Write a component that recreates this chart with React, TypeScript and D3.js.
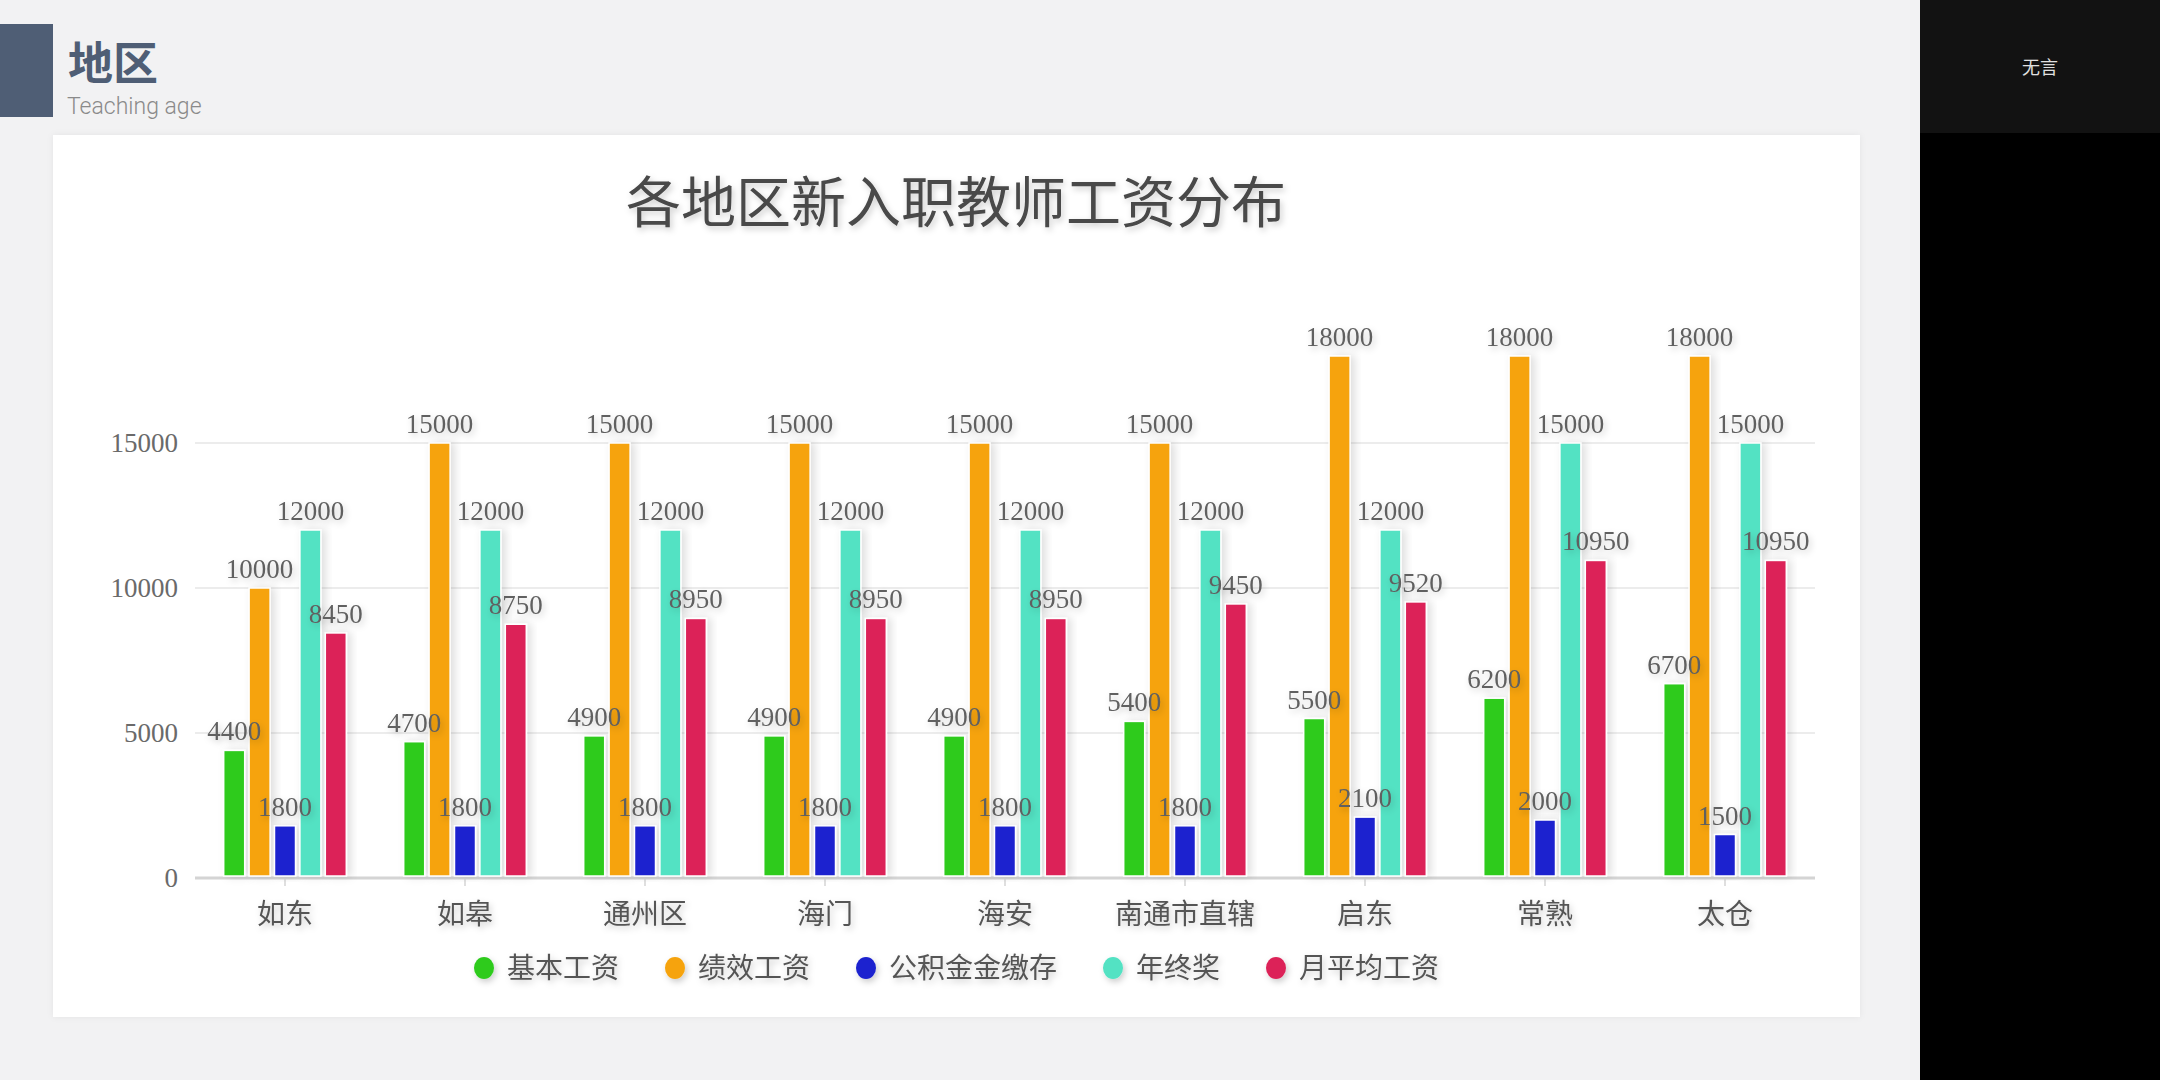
import React from "react";
import * as d3 from "d3";

const categories = ["如东", "如皋", "通州区", "海门", "海安", "南通市直辖", "启东", "常熟", "太仓"];
const seriesNames = ["基本工资", "绩效工资", "公积金金缴存", "年终奖", "月平均工资"];
const seriesColors = ["#2fcb1f", "#f6a309", "#1b23cf", "#52e2c3", "#dc2459"];
const basicPay = [4400, 4700, 4900, 4900, 4900, 5400, 5500, 6200, 6700];
const performancePay = [10000, 15000, 15000, 15000, 15000, 15000, 18000, 18000, 18000];
const housingFund = [1800, 1800, 1800, 1800, 1800, 1800, 2100, 2000, 1500];
const yearEndBonus = [12000, 12000, 12000, 12000, 12000, 12000, 12000, 15000, 15000];
const monthlyAverage = [8450, 8750, 8950, 8950, 8950, 9450, 9520, 10950, 10950];
const yTicks = [0, 5000, 10000, 15000];

const seriesValues = [basicPay, performancePay, housingFund, yearEndBonus, monthlyAverage];

const W = 2160;
const H = 1080;
const plotLeft = 195;
const plotRight = 1815;
const plotBottom = 878;
const plotTop = 298;

const numFont = "'Liberation Serif', 'DejaVu Serif', serif";
const cjkFont = "'Noto Sans CJK SC', 'Noto Sans', sans-serif";

export default function App() {
  const x = d3.scaleBand<string>().domain(categories).range([plotLeft, plotRight]).padding(0);
  const inner = d3
    .scaleBand<string>()
    .domain(seriesNames)
    .range([-61.3, 61.3])
    .paddingInner(0.173)
    .paddingOuter(0);
  const y = d3.scaleLinear().domain([0, 20000]).range([plotBottom, plotTop]);

  // legend layout
  const legendChar = 28;
  const legendItems: { name: string; color: string; cx: number }[] = [];
  const widths = seriesNames.map((n) => n.length * legendChar);
  const total = widths.reduce((a, b) => a + b, 0) + seriesNames.length * 23 + (seriesNames.length - 1) * 56 + 11;
  let cx = 956 - total / 2 + 11;
  seriesNames.forEach((n, i) => {
    legendItems.push({ name: n, color: seriesColors[i], cx });
    cx += 23 + widths[i] + 56;
  });

  return (
    <div style={{ position: "absolute", left: 0, top: 0, width: W, height: H }}>
      <svg width={W} height={H} style={{ display: "block" }}>
        <defs>
          <filter id="barShadow" x="-50%" y="-10%" width="200%" height="120%">
            <feDropShadow dx="4" dy="0" stdDeviation="4" floodColor="#000" floodOpacity="0.13" />
          </filter>
          <filter id="textShadow" x="-20%" y="-30%" width="140%" height="160%">
            <feDropShadow dx="2" dy="3" stdDeviation="3" floodColor="#000" floodOpacity="0.2" />
          </filter>
          <filter id="panelShadow" x="-5%" y="-5%" width="110%" height="110%">
            <feDropShadow dx="0" dy="0" stdDeviation="3" floodColor="#000" floodOpacity="0.06" />
          </filter>
        </defs>

        {/* page backgrounds */}
        <rect x={0} y={0} width={1920} height={H} fill="#f2f2f3" />
        <rect x={1920} y={0} width={240} height={133} fill="#121212" />
        <rect x={1920} y={133} width={240} height={H - 133} fill="#000" />
        <text x={2040} y={74} textAnchor="middle" fontFamily={cjkFont} fontSize={18} fill="#e0e0e0">
          无言
        </text>

        {/* header */}
        <rect x={0} y={24} width={53} height={93} fill="#4f5e75" />
        <text x={68} y={80} fontFamily={cjkFont} fontSize={45} fontWeight={700} fill="#4f5e75">
          地区
        </text>
        <text x={67} y={114} fontFamily="Roboto, 'Liberation Sans', sans-serif" fontWeight={300} fontSize={23} fill="#8a8a8a">
          Teaching age
        </text>

        {/* panel */}
        <rect x={53} y={135} width={1807} height={882} fill="#ffffff" filter="url(#panelShadow)" />

        {/* title */}
        <text
          x={956}
          y={222}
          textAnchor="middle"
          fontFamily={cjkFont}
          fontSize={55}
          fontWeight={400}
          fill="#484848"
          filter="url(#textShadow)"
        >
          各地区新入职教师工资分布
        </text>

        {/* grid lines */}
        {yTicks.map((t) => (
          <line
            key={"g" + t}
            x1={plotLeft}
            x2={plotRight}
            y1={y(t)}
            y2={y(t)}
            stroke={t === 0 ? "#d4d4d4" : "#ececec"}
            strokeWidth={t === 0 ? 3 : 2}
          />
        ))}
        {/* y labels */}
        {yTicks.map((t) => (
          <text
            key={"yl" + t}
            x={178}
            y={y(t)}
            dy="0.35em"
            textAnchor="end"
            fontFamily={numFont}
            fontSize={27}
            fill="#6a6a6a"
          >
            {t}
          </text>
        ))}
        {/* x ticks */}
        {categories.map((c) => (
          <line
            key={"xt" + c}
            x1={(x(c) as number) + x.bandwidth() / 2}
            x2={(x(c) as number) + x.bandwidth() / 2}
            y1={plotBottom}
            y2={plotBottom + 8}
            stroke="#d4d4d4"
            strokeWidth={1.5}
          />
        ))}

        {/* bars */}
        {categories.map((c, ci) => {
          const center = (x(c) as number) + x.bandwidth() / 2;
          return (
            <g key={"bg" + c}>
              {seriesNames.map((s, si) => {
                const v = seriesValues[si][ci];
                const bx = center + (inner(s) as number);
                return (
                  <rect
                    key={s}
                    x={bx}
                    y={y(v)}
                    width={inner.bandwidth()}
                    height={plotBottom - 2 - y(v)}
                    fill={seriesColors[si]}
                    stroke="#ffffff"
                    strokeWidth={1.5}
                    filter="url(#barShadow)"
                  />
                );
              })}
            </g>
          );
        })}

        {/* value labels */}
        {categories.map((c, ci) => {
          const center = (x(c) as number) + x.bandwidth() / 2;
          return (
            <g key={"vl" + c} filter="url(#textShadow)">
              {seriesNames.map((s, si) => {
                const v = seriesValues[si][ci];
                const bx = center + (inner(s) as number) + inner.bandwidth() / 2;
                return (
                  <text
                    key={s}
                    x={bx}
                    y={y(v) - 10}
                    textAnchor="middle"
                    fontFamily={numFont}
                    fontSize={27}
                    fill="#606060"
                  >
                    {v}
                  </text>
                );
              })}
            </g>
          );
        })}

        {/* category labels */}
        {categories.map((c) => (
          <text
            key={"xl" + c}
            x={(x(c) as number) + x.bandwidth() / 2}
            y={914}
            dy="0.35em"
            textAnchor="middle"
            fontFamily={cjkFont}
            fontSize={28}
            fill="#555"
            filter="url(#textShadow)"
          >
            {c}
          </text>
        ))}

        {/* legend */}
        {legendItems.map((it) => (
          <g key={"lg" + it.name} filter="url(#textShadow)">
            <ellipse cx={it.cx} cy={968} rx={10} ry={11} fill={it.color} />
            <text
              x={it.cx + 23}
              y={968}
              dy="0.35em"
              fontFamily={cjkFont}
              fontSize={28}
              fill="#555"
            >
              {it.name}
            </text>
          </g>
        ))}
      </svg>
    </div>
  );
}
